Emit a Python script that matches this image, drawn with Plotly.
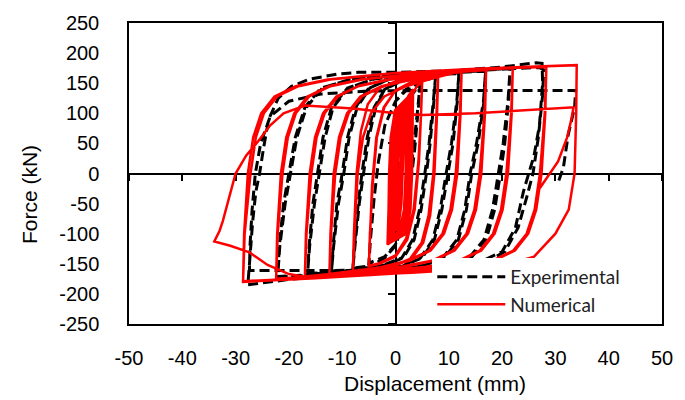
import plotly.graph_objects as go

# ---------------- data ----------------
x_ticks = [-50, -40, -30, -20, -10, 0, 10, 20, 30, 40, 50]
y_ticks = [-250, -200, -150, -100, -50, 0, 50, 100, 150, 200, 250]

# Experimental hysteresis path: displacement (mm)
exp_x = [0, 0.8, 1.6, 2.2, 1.6, 0.6, -0.5, -1.2, -0.6, 0.4, 1.5, 2.5, 4.6,
         4.3, 3.6, 2.8, 1.5, 0, -2, -3.5, -5,
         -4.7, -4, -3.2, -2, 0, 2, 4.6,
         4.2, 3.4, 2.6, 1.3, 0, -2, -5,
         -4.7, -4, -3.2, -2, 0, 2, 4.5, 7.5,
         7.2, 6.5, 5.8, 4.8, 3.5, 1.5, -2, -5, -8,
         -7.7, -7, -6.3, -5.3, -4, -2, 1, 4, 7.5,
         7.1, 6.3, 5.5, 4.5, 3.2, 1.2, -2, -8,
         -7.6, -6.8, -6, -5, -3.7, -2, 1, 5, 11.9,
         11.6, 10.8, 9.8, 8.7, 7.3, 5, 1, -4, -12,
         -11.7, -11, -10, -9, -7.5, -5, -1, 5, 11.9,
         11.5, 10.5, 9.5, 8.4, 7, 4.7, 1, -4, -12,
         -11.6, -10.7, -9.7, -8.7, -7.2, -4.8, -1, 5, 16.9,
         16.6, 15.5, 14.3, 13.3, 11.8, 9, 4, -4, -16.5,
         -16.2, -15.5, -14.7, -13.6, -12, -9, -4, 3, 16.9,
         16.5, 15.2, 14, 13, 11.5, 8.7, 4, -4, -16.5,
         -16.1, -15.2, -14.3, -13.2, -11.7, -8.8, -4, 3, 12, 21.5,
         21.2, 20.5, 19.7, 18.6, 17, 14, 8, 0, -10, -22.1,
         -21.8, -21, -20, -18.8, -17, -14, -8, 0, 10, 21.5,
         21.1, 20.2, 19.3, 18.2, 16.6, 13.6, 8, 0, -10, -22.1,
         -21.7, -20.7, -19.7, -18.5, -16.7, -13.7, -8, 0, 10, 20, 26.4, 27.5,
         27.6, 27, 26, 25, 24, 22.5, 20, 15, 8, 0, -10, -20, -27.7,
         -27.4, -26.8, -26.2, -25.5, -24.8, -23.8, -22, -19.5, -16, -11, -7, 0, 8, 17, 27, 27.8,
         27.6, 26.8, 25.8, 24.6, 23, 20.5, 16, 10, 0, -12, -20, -27.4,
         -27.3, -26.9, -26.3, -25.3, -23.5, -20, -14, -5, 5, 12, 22, 33.8,
         33.6, 32.4, 31.5, 30.5]
# Experimental hysteresis path: force (kN)
exp_y = [0, 60, 100, 120, 60, 0, -60, -100, -50, 20, 85, 125, 148,
         110, 40, -20, -80, -120, -140, -148, -150,
         -110, -40, 20, 80, 120, 138, 147,
         110, 40, -20, -80, -118, -138, -149,
         -110, -40, 20, 80, 120, 140, 152, 160,
         120, 50, 0, -60, -110, -140, -152, -156, -158,
         -120, -50, 0, 60, 110, 140, 153, 158, 159,
         120, 50, 0, -60, -110, -140, -151, -157,
         -120, -50, 0, 60, 110, 140, 155, 162, 167,
         120, 50, 0, -60, -110, -140, -155, -160, -163,
         -120, -50, 0, 60, 110, 142, 157, 164, 166,
         120, 50, 0, -60, -110, -140, -154, -159, -162,
         -120, -50, 0, 60, 110, 142, 158, 165, 171,
         120, 50, 0, -60, -110, -142, -156, -161, -167,
         -120, -50, 0, 60, 110, 142, 157, 164, 170,
         120, 50, 0, -60, -110, -142, -155, -160, -166,
         -120, -50, 0, 60, 110, 142, 158, 165, 170, 176,
         120, 50, 0, -60, -110, -142, -157, -162, -166, -172,
         -120, -50, 0, 60, 110, 142, 157, 164, 169, 174,
         120, 50, 0, -60, -110, -142, -156, -161, -165, -171,
         -120, -50, 0, 60, 110, 142, 158, 165, 170, 177, 184, 183,
         150, 80, 30, 0, -30, -90, -130, -150, -158, -162, -168, -176, -185,
         -150, -80, -30, 0, 40, 90, 125, 145, 157, 165, 168, 168, 170, 173, 176, 172,
         130, 60, 0, -40, -90, -130, -152, -160, -161, -161, -161, -161,
         -120, -60, 0, 50, 95, 120, 132, 137, 138, 138, 138, 138,
         110, 64, 10, -15]

# Numerical hysteresis path: displacement (mm)
num_x = [0, 0.5, 1.2, 2.2, 3.3,
         3.2, 3.1, 2.8, 2.0, -1.0, -1.5,
         -1.3, -1.2, -0.9, -0.1, 2.9, 3.3,
         3.0, 2.9, 2.6, 1.8, -0.8, -1.3,
         -1.0, -0.9, -0.6, 0.2, 2.6, 3.0,
         2.6, 2.5, 2.2, 1.4, -0.5, -1.0,
         -0.6, -0.5, -0.2, 0.5, 2.2, 2.6,
         2.3, 2.2, 1.9, 1.1, -0.2, -0.6,
         -0.2, -0.1, 0.2, 0.8, 1.9, 2.3,
         2.0, 1.9, 1.6, 0.9, 0.1, -0.3,
         0.2, 0.3, 0.6, 1.1, 1.7, 1.9,
         1.6, 1.4, 1.1, 0.6, 0.2,
         0.7, 0.8, 1.0, 1.3, 1.5,
         1.3, 1.2, 1.0, 0.6, 0.2,
         0.5, 0.9, 1.6, 2.8, 4, 5,
         4.8, 4.4, 3.6, 2.2, 0, -3, -5,
         -4.8, -4.4, -3.6, -2.2, 0, 3, 5,
         4.8, 4.3, 3.4, 2.0, 0, -3, -5,
         -4.8, -4.3, -3.5, -2.1, 0, 3, 5.5, 8,
         7.8, 7.3, 6.5, 5.2, 3, 0, -4, -8,
         -7.8, -7.3, -6.5, -5.2, -3, 0, 4, 8,
         7.7, 7.1, 6.2, 4.9, 2.7, 0, -4, -8,
         -7.7, -7.1, -6.1, -4.6, -2.1, 2, 7, 12.4,
         12.2, 11.6, 10.6, 9.1, 6.6, 2.6, -3, -12.4,
         -12.2, -11.6, -10.6, -9.1, -6.6, -2.6, 3, 12.4,
         12.1, 11.3, 10.3, 8.8, 6.3, 2.3, -3, -12.4,
         -12.1, -11.3, -10.3, -8.8, -6.3, -2.3, 3, 10, 17,
         16.8, 16.1, 15.1, 13.6, 11.1, 7, 1, -8, -17,
         -16.8, -16.1, -15.1, -13.6, -11.1, -7, -1, 8, 17,
         16.7, 15.8, 14.8, 13.3, 10.8, 6.8, 1, -8, -17,
         -16.7, -15.8, -14.8, -13.3, -10.8, -6.8, -1, 10, 22,
         21.8, 21.1, 20.1, 18.6, 16.1, 12, 6, -5, -22.4,
         -22.2, -21.5, -20.5, -19, -16.5, -12.5, -6.5, 5, 22,
         21.7, 20.8, 19.8, 18.3, 15.8, 11.8, 5.8, -5, -22.4,
         -22.1, -21.2, -20.2, -18.7, -16.2, -12.2, -6.2, 5, 15, 28.3,
         28.1, 27.4, 26.4, 24.9, 22.4, 18.4, 12.4, 0, -15, -28.6,
         -28.4, -27.7, -26.7, -25.2, -22.7, -18.7, -12.7, 0, 15, 28.3,
         28, 27.1, 26.1, 24.6, 22.1, 18.1, 12.1, 0, -15, -28.6,
         -28.3, -27.2, -26.2, -24.7, -22.2, -18.2, -12.2, 0, 15, 34,
         33.9, 33.6, 32.5, 30, 26, 20, 12, 3, -6, -16,
         -20, -24, -27.4, -31, -34,
         -33, -32.4, -31.2, -30, -28, -25.8, -23.5, -21, -17, -8, 0, 5, 15, 25, 33.4,
         33, 32.2, 30.5, 28.5, 27.1]
# Numerical hysteresis path: force (kN)
num_y = [0, 40, 90, 125, 140,
         80, 0, -60, -100, -115, -118,
         -60, 0, 60, 105, 132, 140,
         80, 0, -60, -100, -113, -116,
         -60, 0, 60, 103, 130, 137,
         80, 0, -60, -97, -110, -113,
         -60, 0, 60, 100, 125, 132,
         80, 0, -60, -95, -106, -110,
         -60, 0, 58, 95, 118, 125,
         70, 0, -60, -90, -102, -106,
         -60, 0, 55, 90, 110, 115,
         60, 0, -50, -85, -95,
         -50, 0, 50, 85, 100,
         50, 0, -50, -80, -95,
         -40, 20, 80, 125, 145, 152,
         100, 20, -60, -110, -138, -150, -154,
         -100, -20, 60, 110, 138, 150, 153,
         100, 20, -60, -108, -136, -149, -153,
         -100, -20, 60, 110, 138, 152, 158, 163,
         100, 0, -70, -115, -142, -153, -159, -163,
         -100, 0, 70, 115, 142, 153, 159, 162,
         100, 0, -70, -115, -142, -152, -158, -162,
         -100, 0, 60, 100, 128, 145, 158, 170,
         100, 0, -60, -100, -128, -145, -157, -168,
         -100, 0, 60, 100, 128, 145, 157, 169,
         100, 0, -60, -100, -128, -145, -156, -167,
         -100, 0, 60, 100, 128, 145, 156, 166, 173,
         100, 0, -60, -100, -128, -145, -156, -164, -172,
         -100, 0, 60, 100, 128, 145, 156, 166, 172,
         100, 0, -60, -100, -128, -145, -155, -163, -171,
         -100, 0, 60, 100, 128, 146, 157, 168, 176,
         100, 0, -60, -100, -128, -145, -156, -165, -176,
         -100, 0, 60, 100, 128, 145, 156, 167, 175,
         100, 0, -60, -100, -128, -145, -155, -164, -175,
         -100, 0, 60, 100, 128, 145, 156, 167, 173, 178,
         100, 0, -60, -100, -128, -145, -156, -166, -174, -180,
         -100, 0, 60, 100, 128, 145, 156, 167, 174, 177,
         100, 0, -60, -100, -128, -145, -155, -165, -173, -179,
         -100, 0, 60, 100, 128, 145, 156, 167, 174, 180,
         100, 0, -60, -100, -138, -153, -160, -165, -168, -173,
         -167, -152, -131, -120, -113,
         -95, -79, -40, 0, 30, 53, 80, 100, 113, 108, 100, 97, 100, 105, 110,
         90, 60, 20, -5, -24]

# ---------------- figure ----------------
FONT = "Liberation Sans, Arial, sans-serif"

fig = go.Figure()
fig.add_trace(go.Scatter(x=[None], y=[None], showlegend=False, hoverinfo="skip"))
fig.add_trace(go.Scatter(
    x=exp_x, y=exp_y, mode="lines", name="Experimental",
    xaxis="x2", yaxis="y2",
    line=dict(color="black", width=3, dash="10px,5px")))
fig.add_trace(go.Scatter(
    x=num_x, y=num_y, mode="lines", name="Numerical",
    xaxis="x2", yaxis="y2",
    line=dict(color="#ff0000", width=2.5)))

fig.update_layout(
    width=685, height=400,
    margin=dict(l=129, r=20, t=20, b=76),
    paper_bgcolor="white", plot_bgcolor="white",
    showlegend=True,
    legend=dict(x=0.569, y=0.22, xanchor="left", yanchor="top",
                bgcolor="white", borderwidth=0,
                font=dict(family="Lato, sans-serif", size=19, color="#222"),
                itemwidth=68, tracegroupgap=0),
    xaxis=dict(range=[-50, 50], tickvals=x_ticks, ticktext=[str(v) for v in x_ticks],
               ticks="outside", ticklen=15, tickcolor="rgba(0,0,0,0)",
               showgrid=False, zeroline=False, showline=True, mirror=True,
               linecolor="black", linewidth=1.5,
               tickfont=dict(family=FONT, size=20, color="black")),
    yaxis=dict(range=[-250, 250], tickvals=y_ticks, ticktext=[str(v) for v in y_ticks],
               ticks="outside", ticklen=24, tickcolor="rgba(0,0,0,0)",
               showgrid=False, zeroline=False, showline=True, mirror=True,
               linecolor="black", linewidth=1.5,
               tickfont=dict(family=FONT, size=20, color="black")),
    xaxis2=dict(range=[-50, 50], overlaying="x", anchor="free", position=0.5,
                tickvals=x_ticks, ticks="outside", ticklen=7, tickwidth=1.5,
                tickcolor="black", showticklabels=False, showline=True,
                linecolor="black", linewidth=1.5, showgrid=False, zeroline=False,
                layer="below traces"),
    yaxis2=dict(range=[-250, 250], overlaying="y", anchor="free", position=0.5,
                side="left", tickvals=y_ticks, ticks="outside", ticklen=7,
                tickwidth=1.5, tickcolor="black", showticklabels=False,
                showline=True, linecolor="black", linewidth=1.5,
                showgrid=False, zeroline=False, layer="below traces"),
    annotations=[
        dict(text="Displacement (mm)", xref="paper", yref="paper",
             x=0.5746, y=-0.197, xanchor="center", yanchor="middle",
             showarrow=False, font=dict(family=FONT, size=21, color="black")),
        dict(text="Force (kN)", xref="paper", yref="paper",
             x=-0.188, y=0.431, xanchor="center", yanchor="middle",
             textangle=-90, showarrow=False,
             font=dict(family=FONT, size=21, color="black")),
    ],
)

fig.write_html("out.html")
